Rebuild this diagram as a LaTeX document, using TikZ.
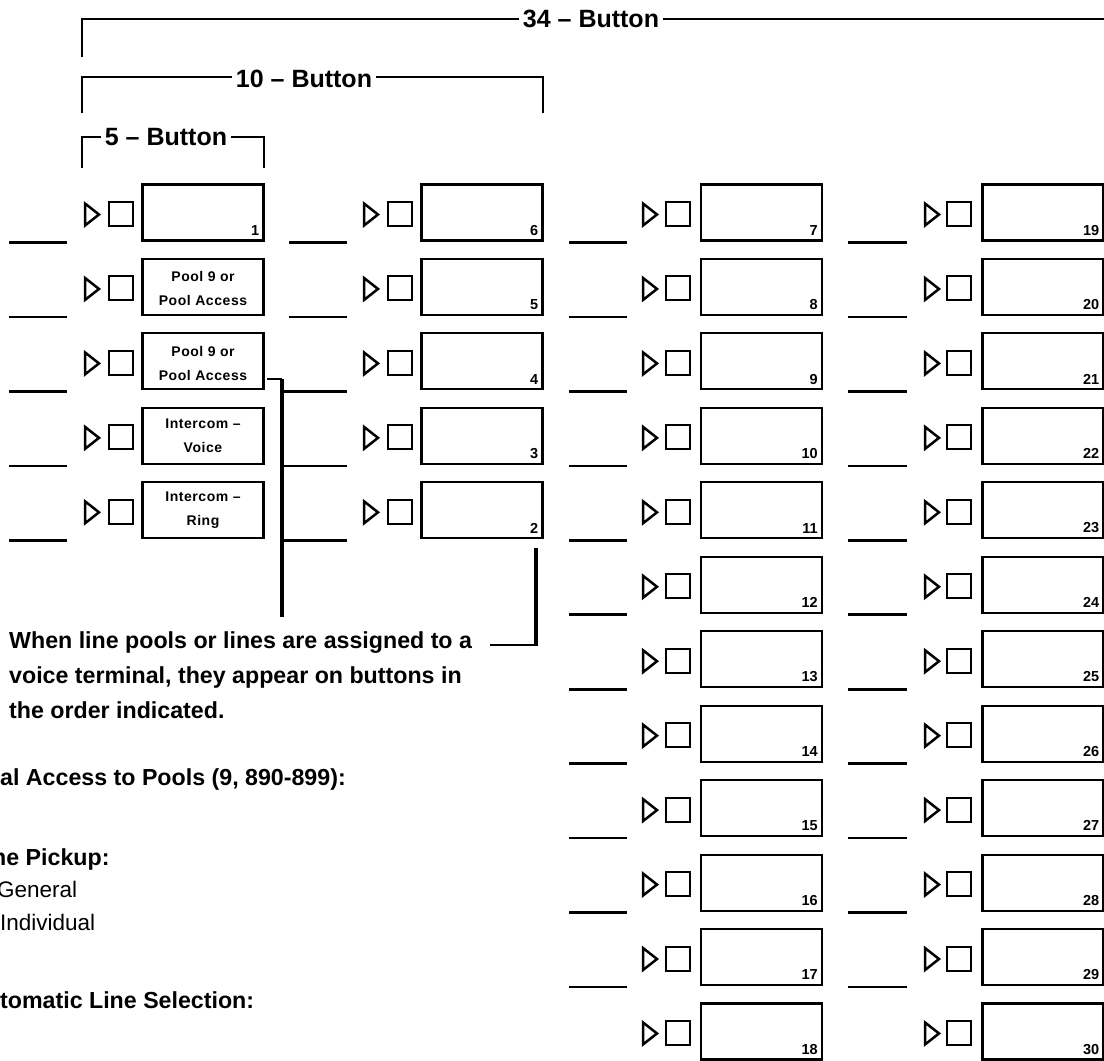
\documentclass[tikz,border=0pt]{standalone}
\usepackage{fontspec}
\setmainfont{Liberation Sans}
\newfontfamily\lblfont{Liberation Sans}[LetterSpace=4.0,Ligatures=TeX]
\begin{document}
\begin{tikzpicture}[x=1pt,y=-1pt,
  btn/.style={draw,line width=2.1pt,minimum width=121pt,minimum height=56pt,inner sep=0pt,outer sep=0pt},
  sqbox/.style={draw,line width=2pt,minimum size=24pt,inner sep=0pt,outer sep=0pt},
  tri/.style={draw,line width=2.5pt,line join=miter},
  uline/.style={line width=2.6pt},
  brk/.style={line width=2pt,line join=miter},
  conn/.style={line width=3.3pt},
  thinconn/.style={line width=2.2pt},
  hdr/.style={font=\bfseries\fontsize{25}{30}\selectfont,fill=white,inner xsep=4pt,inner ysep=1pt},
  num/.style={font=\bfseries\fontsize{14.5}{14.5}\selectfont,anchor=south east,inner sep=0pt},
  lbl/.style={font=\lblfont\bfseries\fontsize{14}{24}\selectfont,align=center,inner sep=0pt},
  note/.style={font=\bfseries\fontsize{23.2}{28}\selectfont,anchor=base west,inner sep=0pt},
  plain/.style={font=\fontsize{22.5}{27}\selectfont,anchor=base west,inner sep=0pt},
]
\useasboundingbox (0,0) rectangle (1104,1061);

% ---- brackets
\coordinate (k34a) at (82,57);  \coordinate (k34b) at (82,19);  \coordinate (k34c) at (1104,19);
\draw[brk] (k34a) -- (k34b) -- (k34c);
\node[hdr] (h34) at (591,19) {34 -- Button};

\coordinate (k10a) at (82,113); \coordinate (k10b) at (82,77); \coordinate (k10c) at (543,77); \coordinate (k10d) at (543,113);
\draw[brk] (k10a) -- (k10b) -- (k10c) -- (k10d);
\node[hdr] (h10) at (304,79) {10 -- Button};

\coordinate (k5a) at (82,168); \coordinate (k5b) at (82,137); \coordinate (k5c) at (264,137); \coordinate (k5d) at (264,168);
\draw[brk] (k5a) -- (k5b) -- (k5c) -- (k5d);
\node[hdr] (h5) at (166,137) {5 -- Button};

% ---- button columns
\foreach \col/\bx/\tx/\sx/\ua/\ub/\last/\base/\dir in
  {1/203/85/109/9/67/4/1/0, 2/482/364/388/289/347/4/6/-1,
   3/761.5/643/666/569/627/11/7/1, 4/1043/925/947/848/907/11/19/1}{
  \foreach \row in {0,...,\last}{
    \pgfmathsetmacro{\cy}{212.5+74.45*\row}
    \node[btn] (box-\col-\row) at (\bx,\cy) {};
    \node[sqbox] (sq-\col-\row) at (\sx+12,\cy+1.5) {};
    \draw[tri] (\tx,\cy-9) -- (\tx+14,\cy+2) -- (\tx,\cy+13) -- cycle;
    \pgfmathtruncatemacro{\shownum}{(\col>1)||(\row==0)}
    \ifnum\shownum=1
      \pgfmathtruncatemacro{\nval}{\base+\dir*\row}
      \node[num] (n-\col-\row) at ([xshift=-4pt,yshift=5pt]box-\col-\row.south east) {\nval};
    \fi
    \pgfmathtruncatemacro{\showul}{(\row<11)&&!((\col==2)&&(\row>=2))}
    \ifnum\showul=1
      \draw[uline] (\ua,\cy+30) -- (\ub,\cy+30);
    \fi
  }
}

% ---- labels in the 5-button column
\node[lbl,yshift=-2pt] (l2) at (box-1-1) {Pool 9 or\\Pool Access};
\node[lbl,yshift=-2pt] (l3) at (box-1-2) {Pool 9 or\\Pool Access};
\node[lbl] (l4) at (box-1-3) {Intercom --\\Voice};
\node[lbl] (l5) at (box-1-4) {Intercom --\\Ring};

% ---- connector from the pool buttons
\coordinate (pj) at (282,379);
\coordinate (pbot) at (282,617);
\draw[thinconn] ([xshift=3pt]box-1-2.east |- pj) -- (pj);
\draw[conn] (pj) -- (pbot);
\foreach \row in {2,3,4}{
  \pgfmathsetmacro{\uy}{212.5+74.45*\row+30}
  \draw[uline] (282,\uy) -- (347,\uy);
}

% ---- right bracket to the note
\coordinate (rtop) at (536,548);
\coordinate (rc) at (536,645);
\coordinate (rend) at (490,645);
\draw[conn] (rtop) -- ([yshift=-1pt]rc);
\draw[thinconn] (rc) -- (rend);

% ---- texts
\node[note] (t1) at (9,648) {When line pools or lines are assigned to a};
\node[note] (t2) at (9,683) {voice terminal, they appear on buttons in};
\node[note] (t3) at (9,718) {the order indicated.};
\node[note] (t4) at (0,785) {al Access to Pools (9, 890-899):};
\node[note] (t5) at (-8,865) {ne Pickup:};
\node[plain] (t6) at (-3,897) {General};
\node[plain] (t7) at (0,930) {Individual};
\node[note] (t8) at (0,1008) {tomatic Line Selection:};
\end{tikzpicture}
\end{document}
